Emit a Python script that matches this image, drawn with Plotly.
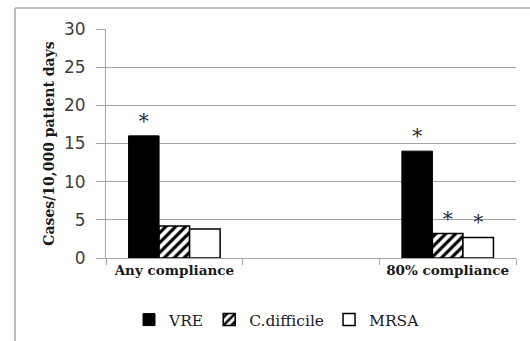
import plotly.graph_objects as go

categories = ["Any compliance", " ", "80% compliance"]
vre = [16.0, None, 14.0]
cdiff = [4.2, None, 3.2]
mrsa = [3.8, None, 2.7]
vre_sig = ["*", "", "*"]
cdiff_sig = ["", "", "*"]
mrsa_sig = ["", "", "*"]
y_ticks = [0, 5, 10, 15, 20, 25, 30]

W, H = 530, 341
L, R, T, B = 106, 14, 29, 83
pw, ph = W - L - R, H - T - B

def px(x):
    return (x - L) / pw

def py(y):
    return (H - B - y) / ph

star_font = dict(family="DejaVu Serif", size=20, color="#2b2b3b")

fig = go.Figure()
fig.add_trace(go.Bar(name="VRE", x=categories, y=vre, text=vre_sig,
                     textposition="outside", textfont=star_font, cliponaxis=False,
                     marker=dict(color="black", line=dict(color="black", width=1))))
fig.add_trace(go.Bar(name="C.difficile", x=categories, y=cdiff, text=cdiff_sig,
                     textposition="outside", textfont=star_font, cliponaxis=False,
                     marker=dict(color="white", line=dict(color="black", width=1.5),
                                 pattern=dict(shape="/", fgcolor="black", bgcolor="white",
                                              size=7, solidity=0.45))))
fig.add_trace(go.Bar(name="MRSA", x=categories, y=mrsa, text=mrsa_sig,
                     textposition="outside", textfont=star_font, cliponaxis=False,
                     marker=dict(color="white", line=dict(color="black", width=1.5))))

fig.update_layout(
    template="none",
    width=W, height=H,
    margin=dict(l=L, r=R, t=T, b=B, autoexpand=False),
    paper_bgcolor="white", plot_bgcolor="white",
    barmode="group", bargap=0.33, bargroupgap=0,
    showlegend=True,
    legend=dict(orientation="h", x=px(277), xanchor="center", y=py(320), yanchor="middle",
                font=dict(family="DejaVu Serif", size=15.5, color="#1a1a2a"),
                itemwidth=30, traceorder="normal", tracegroupgap=0),
    xaxis=dict(type="category", showgrid=False, showline=True, linecolor="#a6a6a6",
               linewidth=1, ticks="outside", ticklen=6, tickcolor="#a6a6a6",
               tickson="boundaries", automargin=False,
               tickfont=dict(family="DejaVu Serif", size=13.5, color="#1a1a1a",
                             weight="bold")),
    yaxis=dict(range=[0, 30], tickvals=y_ticks, showgrid=True, gridcolor="#a6a6a6",
               gridwidth=1, showline=True, linecolor="#a6a6a6", linewidth=1,
               ticks="outside", ticklen=9, tickcolor="#a6a6a6", zeroline=False,
               automargin=False, ticklabelstandoff=7,
               tickfont=dict(family="DejaVu Sans", size=17, color="#404040"),
               title=dict(text="<b>Cases/10,000 patient days</b>", standoff=6,
                          font=dict(family="DejaVu Serif", size=14, color="#1a1a1a"))),
    shapes=[
        dict(type="line", xref="paper", yref="paper", x0=px(15), x1=px(530),
             y0=py(8), y1=py(8), line=dict(color="#a6a6a6", width=1.5)),
        dict(type="line", xref="paper", yref="paper", x0=px(15), x1=px(15),
             y0=py(8), y1=py(341), line=dict(color="#a6a6a6", width=1.5)),
    ],
)

fig.write_html("out.html", config={"displayModeBar": False},
               post_script="document.body.style.margin='0';document.body.style.overflow='hidden';")
